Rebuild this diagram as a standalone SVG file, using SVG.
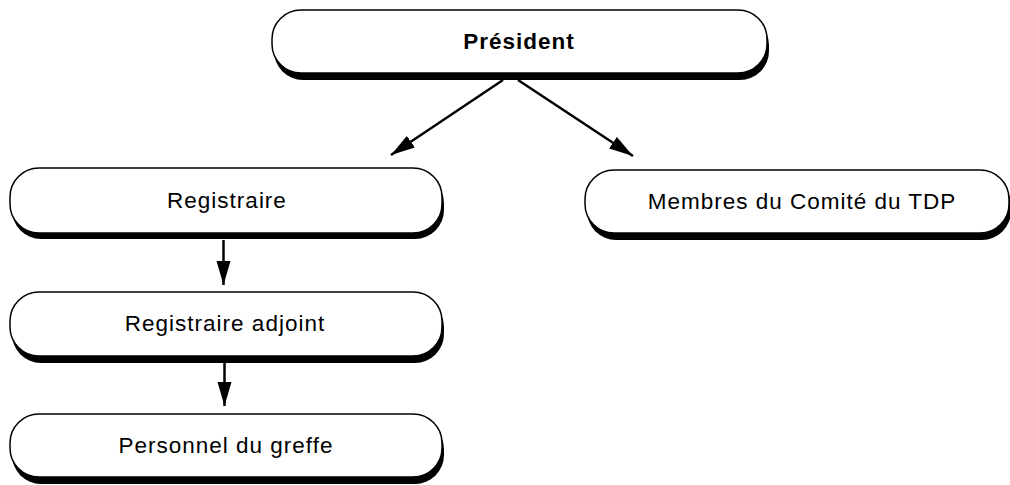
<svg xmlns="http://www.w3.org/2000/svg" width="1010" height="485" viewBox="0 0 1010 485">
  <style>
    .shadow { fill: #000; }
    .box { fill: #fff; stroke: #000; stroke-width: 1.5; }
    .lbl { font-family: "Liberation Sans", Arial, sans-serif; font-size: 22.5px; letter-spacing: 1px; fill: #000; text-anchor: middle; }
    .bold { font-weight: bold; }
    .conn { stroke: #000; stroke-width: 2.5; fill: none; marker-end: url(#arrow); }
  </style>
  <defs>
    <marker id="arrow" markerUnits="userSpaceOnUse" markerWidth="26" markerHeight="16" refX="24" refY="7" orient="auto">
      <path d="M0,0 L24,7 L0,14 z" fill="#000"/>
    </marker>
  </defs>
  <rect width="1010" height="485" fill="#fff"/>

  <g id="connectors">
    <line class="conn" x1="503" y1="80" x2="391" y2="155"/>
    <line class="conn" x1="518" y1="80" x2="633" y2="156"/>
    <line class="conn" x1="223.5" y1="240" x2="223.5" y2="285"/>
    <line class="conn" x1="224.5" y1="362" x2="224.5" y2="406"/>
  </g>

  <g id="node-president">
    <rect class="shadow" x="274" y="16" width="495" height="64" rx="29"/>
    <rect class="box" x="272" y="10" width="495" height="63" rx="29"/>
    <text class="lbl bold" x="519" y="49">Président</text>
  </g>

  <g id="node-registraire">
    <rect class="shadow" x="12" y="174" width="432" height="65" rx="29"/>
    <rect class="box" x="10" y="168" width="432" height="65" rx="29"/>
    <text class="lbl" x="227" y="208">Registraire</text>
  </g>

  <g id="node-membres">
    <rect class="shadow" x="587" y="176" width="424" height="64" rx="29"/>
    <rect class="box" x="585" y="170" width="424" height="63" rx="29"/>
    <text class="lbl" x="802" y="209">Membres du Comité du TDP</text>
  </g>

  <g id="node-adjoint">
    <rect class="shadow" x="12" y="298" width="432" height="65" rx="29"/>
    <rect class="box" x="10" y="292" width="432" height="64" rx="29"/>
    <text class="lbl" x="225" y="331">Registraire adjoint</text>
  </g>

  <g id="node-personnel">
    <rect class="shadow" x="12" y="420" width="432" height="64" rx="29"/>
    <rect class="box" x="10" y="414" width="432" height="63" rx="29"/>
    <text class="lbl" x="226" y="453">Personnel du greffe</text>
  </g>
</svg>
